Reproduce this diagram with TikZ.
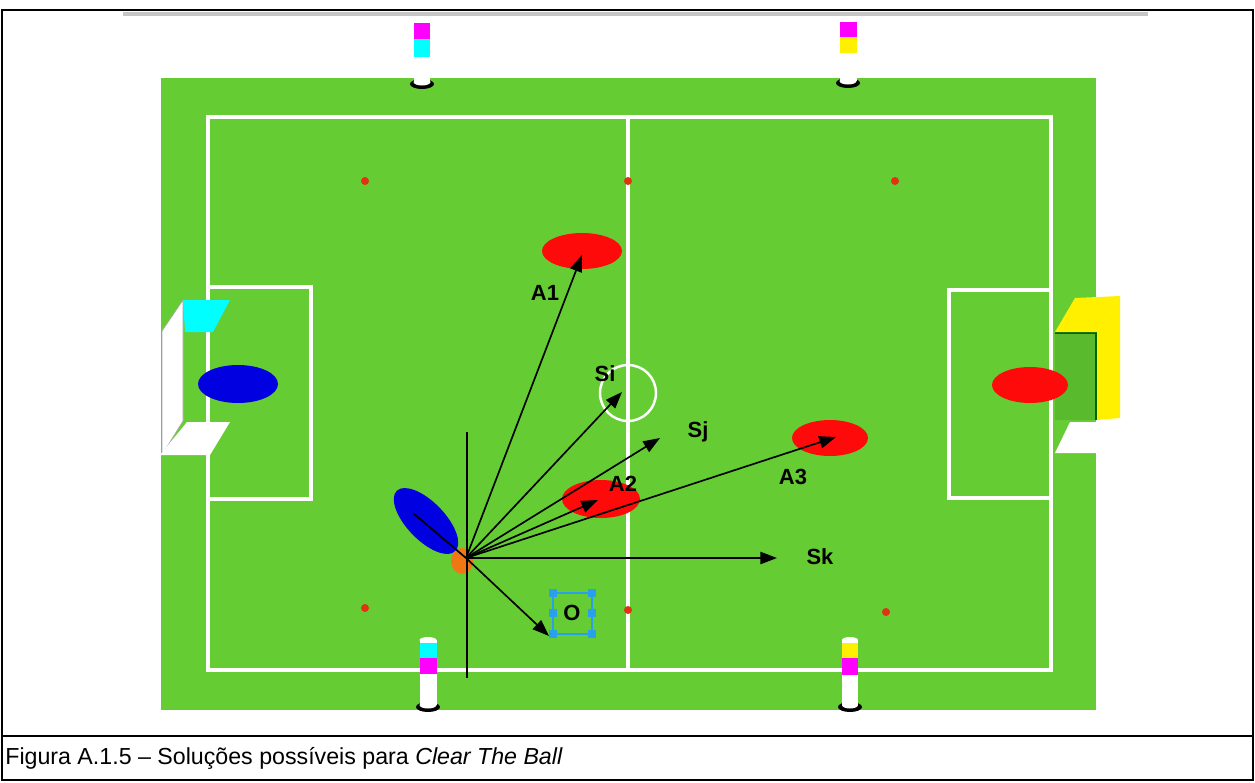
\documentclass[tikz,border=0pt]{standalone}
\usepackage{fontspec}
\setmainfont{Liberation Sans}
\usetikzlibrary{arrows.meta}
\definecolor{pitch}{RGB}{102,204,51}
\definecolor{pitchdark}{RGB}{88,186,44}
\definecolor{robred}{RGB}{255,10,10}
\definecolor{robblue}{RGB}{0,0,225}
\definecolor{dotred}{RGB}{225,50,20}
\definecolor{ballorange}{RGB}{240,120,20}
\definecolor{selblue}{RGB}{40,160,235}
\definecolor{polecyan}{RGB}{0,255,255}
\definecolor{polemag}{RGB}{255,0,255}
\definecolor{poleyel}{RGB}{255,240,0}
\begin{document}
\begin{tikzpicture}[x=0.02cm,y=-0.02cm,
  fieldline/.style={draw=white, line width=2.2pt},
  vec/.style={draw=black, line width=0.95pt, -{Triangle[length=9.5pt,width=7pt]}},
  plainline/.style={draw=black, line width=0.95pt},
  lbl/.style={font=\bfseries\fontsize{12.5}{14}\selectfont, inner sep=0pt},
  handle/.style={fill=selblue, minimum size=4.2pt, inner sep=0pt, draw=none},
  robot/.style={fill=robred}]
\useasboundingbox (0,0) rectangle (1255,782);
\fill[white] (0,0) rectangle (1255,782);

% page frame and caption separator
\draw[black, line width=1.1pt] (2,10) rectangle (1253,780);
\draw[black, line width=1.1pt] (2,736) -- (1253,736);
\fill[gray!45] (123,12) rectangle (1148,16);

% pitch
\fill[pitch] (161,78) rectangle (1096,710);
\draw[fieldline] (208,117) rectangle (1051,670);
\draw[fieldline] (628,117) -- (628,670);
\draw[fieldline] (208,287) -- (311,287) -- (311,499) -- (208,499);
\draw[fieldline] (1051,290) -- (949,290) -- (949,498) -- (1051,498);
\draw[white, line width=1.4pt] (628,393) circle [radius=28];

% spots
\foreach \p in {(365,181),(628,181),(895,181),(365,608),(628,610),(886,612)}
  \fill[dotred] \p circle [radius=4];

% left goal
\fill[white, draw=gray!70, line width=0.4pt] (162,331) -- (183,300) -- (183,421) -- (162,455) -- cycle;
\fill[polecyan] (183,300) -- (230,300) -- (213,332) -- (185,332) -- cycle;
\fill[white] (187,422) -- (230,422) -- (210,455) -- (160,455) -- cycle;

% right goal
\fill[pitchdark] (1055,332) rectangle (1097,420);
\draw[black!60!green, line width=0.6pt] (1055,333) -- (1096,333) -- (1096,420);
\fill[poleyel] (1075,298) -- (1120,296) -- (1097,332) -- (1055,332) -- cycle;
\fill[poleyel] (1097,332) -- (1120,296) -- (1120,418) -- (1097,420) -- cycle;
\fill[white] (1070,422) -- (1118,422) -- (1100,453) -- (1055,453) -- cycle;

% corner poles, top
\fill[black] (422,84) ellipse [x radius=12, y radius=5];
\fill[white] (414,57) rectangle (430,82);
\fill[white] (422,82) ellipse [x radius=8.5, y radius=3.5];
\fill[polemag] (414,23) rectangle (430,39);
\fill[polecyan] (414,39) rectangle (430,57);

\fill[black] (848,83) ellipse [x radius=12, y radius=5];
\fill[white] (840,55) rectangle (857,81);
\fill[white] (848,81) ellipse [x radius=8.5, y radius=3.5];
\fill[polemag] (840,22) rectangle (857,37);
\fill[poleyel] (840,37) rectangle (857,53);

% corner poles, bottom
\fill[black] (428,707) ellipse [x radius=12, y radius=5];
\fill[white] (420,640) rectangle (437,705);
\fill[white] (428,640) ellipse [x radius=8.5, y radius=3];
\fill[white] (428,705) ellipse [x radius=8.5, y radius=3.5];
\fill[polecyan] (420,643) rectangle (437,658);
\fill[polemag] (420,658) rectangle (437,674);

\fill[black] (850,707) ellipse [x radius=12, y radius=5];
\fill[white] (842,640) rectangle (858,705);
\fill[white] (850,640) ellipse [x radius=8, y radius=3];
\fill[white] (850,705) ellipse [x radius=8, y radius=3.5];
\fill[poleyel] (842,643) rectangle (858,658);
\fill[polemag] (842,658) rectangle (858,675);

% robots
\fill[robblue] (238,384) ellipse [x radius=40, y radius=19];
\fill[robred] (1030,385) ellipse [x radius=38, y radius=18];
\fill[robred] (582,251) ellipse [x radius=40, y radius=18];
\fill[robred] (601,499) ellipse [x radius=39, y radius=19];
\fill[robred] (830,438) ellipse [x radius=38, y radius=18];
\fill[robblue, rotate around={-46:(426,521)}] (426,521) ellipse [x radius=42, y radius=19];
\fill[ballorange] (462,561) ellipse [x radius=11, y radius=13];

% vectors
\coordinate (orig) at (466,558);
\coordinate (head) at (413,513);
\coordinate (vtop) at (467,432);
\coordinate (vbot) at (467,678);
\coordinate (tA1) at (582,255);
\coordinate (tSi) at (622,392);
\coordinate (tSj) at (660,438);
\coordinate (tA2) at (598,500);
\coordinate (tA3) at (836,437);
\coordinate (tSk) at (777,558);
\coordinate (tO) at (549,636);

\draw[plainline] (vtop) -- (vbot);
\draw[plainline] (orig) -- (head);
\draw[vec] (orig) -- (tA1);
\draw[vec] (orig) -- (tSi);
\draw[vec] (orig) -- (tSj);
\draw[vec] (orig) -- (tA2);
\draw[vec] (orig) -- (tA3);
\draw[vec] (orig) -- (tSk);
\draw[vec] (orig) -- (tO);

% obstacle marker with selection handles
\draw[selblue, line width=0.7pt] (553,593) rectangle (592,634);
\foreach \hx/\hy [count=\i] in {553/593,592/593,553/613,592/613,553/634,592/634}
  \node[handle] (h\i) at (\hx,\hy) {};

% labels
\node[lbl] (lA1) at (545,293) {A1};
\node[lbl] (lSi) at (605,374) {Si};
\node[lbl] (lSj) at (698,432) {Sj};
\node[lbl] (lA2) at (623,484) {A2};
\node[lbl] (lA3) at (793,477) {A3};
\node[lbl] (lSk) at (820,557) {Sk};
\node[lbl] (lO) at (572,613) {O};

% caption
\node[anchor=west, font=\fontsize{13.2}{15}\selectfont, inner sep=0pt] (cap) at (5,758)
  {Figura A.1.5 – Soluções possíveis para \textit{Clear The Ball}};
\end{tikzpicture}
\end{document}
